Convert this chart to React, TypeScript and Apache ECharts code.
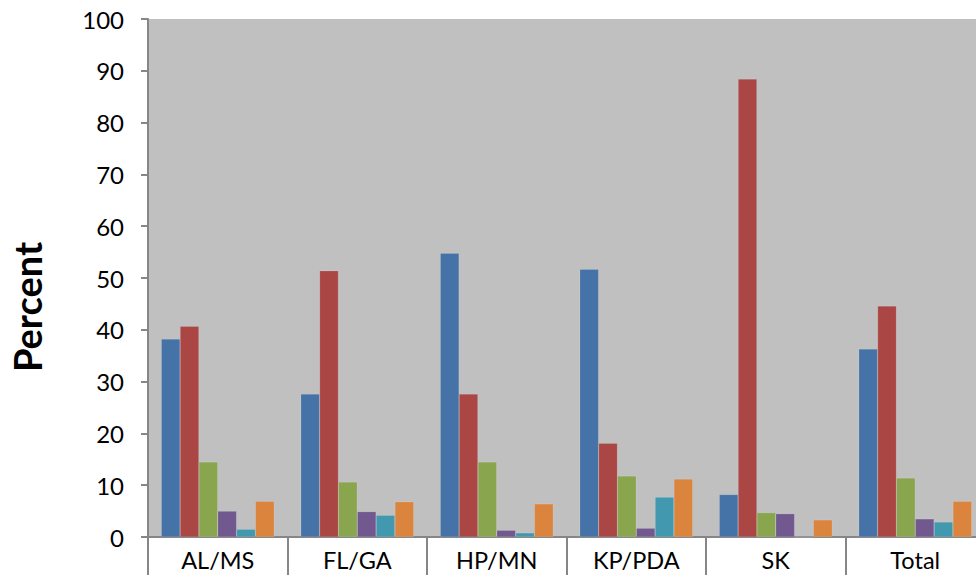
import React, { useEffect, useRef } from "react";
import * as echarts from "echarts";

const categories = ["AL/MS", "FL/GA", "HP/MN", "KP/PDA", "SK", "Total"];
const series1 = [38.2, 27.6, 54.8, 51.7, 8.2, 36.3];
const series2 = [40.7, 51.4, 27.6, 18.1, 88.4, 44.6];
const series3 = [14.5, 10.6, 14.5, 11.8, 4.7, 11.4];
const series4 = [5.0, 4.9, 1.3, 1.7, 4.5, 3.5];
const series5 = [1.5, 4.2, 0.8, 7.7, 0, 2.9];
const series6 = [6.9, 6.8, 6.4, 11.2, 3.3, 6.9];
const seriesNames = ["S1", "S2", "S3", "S4", "S5", "S6"];
const colors = ["#4572A7", "#AA4643", "#89A54E", "#71588F", "#4198AF", "#DB843D"];
const yTicks = { min: 0, max: 100, interval: 10 };
const axisTitle = "Percent";

export default function App() {
  const ref = useRef<HTMLDivElement>(null);
  useEffect(() => {
    if (!ref.current) return;
    const chart = echarts.init(ref.current, null, { renderer: "svg" });
    const data = [series1, series2, series3, series4, series5, series6];
    chart.setOption({
      animation: false,
      textStyle: { fontFamily: "Lato" },
      grid: {
        left: 148,
        top: 19,
        width: 837,
        height: 518,
        outerBoundsMode: "none",
        containLabel: false,
        show: true,
        backgroundColor: "#C0C0C0",
        borderWidth: 0,
      },
      graphic: [
        {
          type: "text",
          x: 27,
          y: 307,
          rotation: Math.PI / 2,
          style: {
            text: axisTitle,
            fontFamily: "Lato",
            fontWeight: "bold",
            fontSize: 38,
            fill: "#000",
            align: "center",
            verticalAlign: "middle",
          },
        },
      ],
      xAxis: {
        type: "category",
        data: categories,
        boundaryGap: true,
        axisLine: { lineStyle: { color: "#868686", width: 2 } },
        axisTick: { show: true, length: 38, interval: 0, lineStyle: { color: "#868686", width: 2 } },
        axisLabel: { fontSize: 23.5, color: "#000", margin: 11, interval: 0, fontFamily: "Lato" },
        splitLine: { show: false },
      },
      yAxis: {
        type: "value",
        min: yTicks.min,
        max: yTicks.max,
        interval: yTicks.interval,
        axisLine: { show: true, lineStyle: { color: "#868686", width: 2 } },
        axisTick: { show: true, length: 7, lineStyle: { color: "#868686", width: 2 } },
        axisLabel: { fontSize: 24, color: "#000", margin: 24, fontFamily: "Lato" },
        splitLine: { show: false },
      },
      series: data.map((d, i) => ({
        type: "bar",
        name: seriesNames[i],
        data: d,
        barGap: "0%",
        barCategoryGap: "19%",
        itemStyle: { color: colors[i], borderColor: "rgba(255,255,255,0.25)", borderWidth: 0.5 },
      })),
    });
    return () => chart.dispose();
  }, []);
  return <div ref={ref} style={{ width: 976, height: 575, position: "absolute", left: 0, top: 0 }} />;
}
